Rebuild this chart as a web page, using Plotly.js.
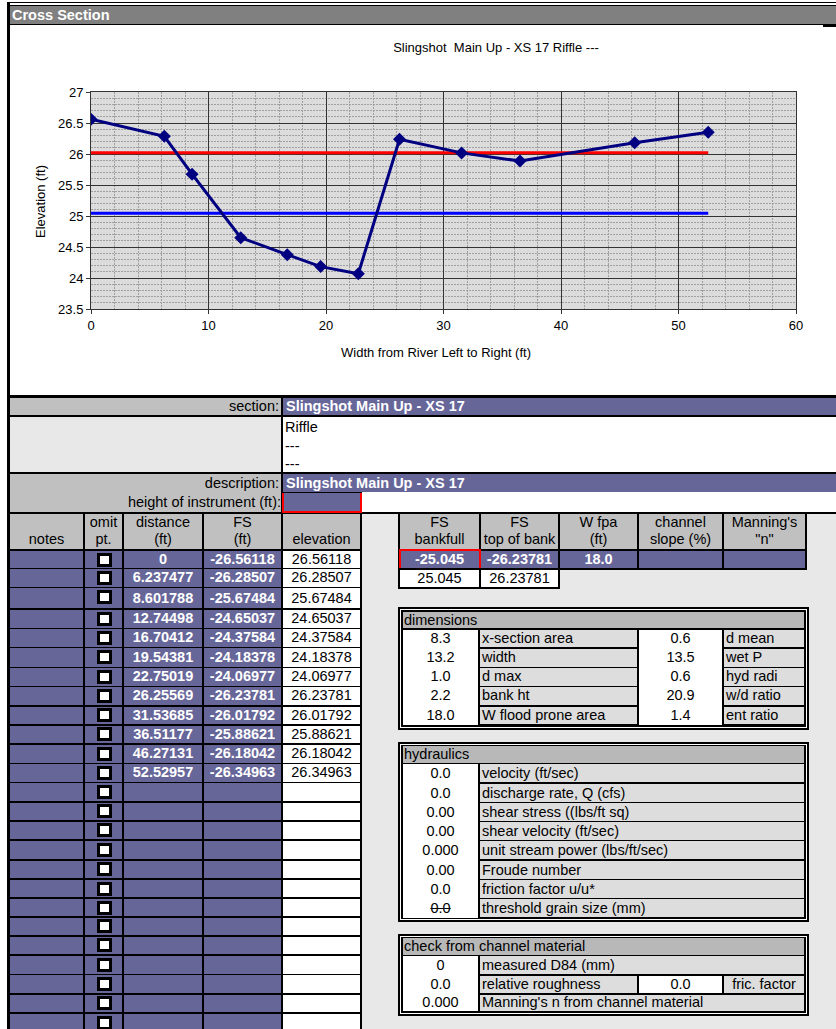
<!DOCTYPE html>
<html><head><meta charset="utf-8">
<script src="https://cdn.plot.ly/plotly-3.0.1.min.js"></script>
<style>
html,body{margin:0;padding:0;background:#fff;}
body{width:836px;height:1029px;position:relative;overflow:hidden;font-family:"Liberation Sans",Arial,sans-serif;}
#chart{position:absolute;left:0;top:0;width:836px;height:400px;}
.r{position:absolute;box-sizing:border-box;overflow:hidden;white-space:nowrap;font-size:14.5px;color:#000;}
</style></head><body>
<div id="chart"></div>
<div id="sheet"></div>
<script>
// ---------- data ----------
const chartTitle = "Slingshot  Main Up - XS 17 Riffle ---";
const xTitle = "Width from River Left to Right (ft)";
const yTitle = "Elevation (ft)";
const distance = [0, 6.237477, 8.601788, 12.74498, 16.70412, 19.54381, 22.75019, 26.25569, 31.53685, 36.51177, 46.27131, 52.52957];
const fsReading = [-26.56118, -26.28507, -25.67484, -24.65037, -24.37584, -24.18378, -24.06977, -26.23781, -26.01792, -25.88621, -26.18042, -26.34963];
const elevation = [26.56118, 26.28507, 25.67484, 24.65037, 24.37584, 24.18378, 24.06977, 26.23781, 26.01792, 25.88621, 26.18042, 26.34963];
const bankfullElev = 25.045;
const floodProneElev = 26.02;
const xTicks = [0, 10, 20, 30, 40, 50, 60];
const yTicks = [23.5, 24, 24.5, 25, 25.5, 26, 26.5, 27];

const sectionName = "Slingshot Main Up - XS 17";
const descLines = ["Riffle", "---", "---"];
const leftHeaders = ["\nnotes", "omit\npt.", "distance\n(ft)", "FS\n(ft)", "\nelevation"];
const rightHeaders = ["FS\nbankfull", "FS\ntop of bank", "W fpa\n(ft)", "channel\nslope (%)", "Manning's\n\"n\""];
const rightRow1 = ["-25.045", "-26.23781", "18.0", "", ""];
const rightRow2 = ["25.045", "26.23781"];
const dimValues1 = ["8.3", "13.2", "1.0", "2.2", "18.0"];
const dimLabels1 = ["x-section area", "width", "d max", "bank ht", "W flood prone area"];
const dimValues2 = ["0.6", "13.5", "0.6", "20.9", "1.4"];
const dimLabels2 = ["d mean", "wet P", "hyd radi", "w/d ratio", "ent ratio"];
const hydValues = ["0.0", "0.0", "0.00", "0.00", "0.000", "0.00", "0.0", "0.0"];
const hydLabels = ["velocity (ft/sec)", "discharge rate, Q (cfs)", "shear stress ((lbs/ft sq)", "shear velocity (ft/sec)", "unit stream power (lbs/ft/sec)", "Froude number", "friction factor u/u*", "threshold grain size (mm)"];
const chkValues = ["0", "0.0", "0.000"];
const chkLabels = ["measured D84 (mm)", "relative roughness", "Manning's n from channel material"];
const chkExtraValue = "0.0";
const chkExtraLabel = "fric. factor";

// ---------- chart ----------
const xEnd = distance[distance.length - 1];
const traces = [
  {x: [0, xEnd], y: [floodProneElev, floodProneElev], type: 'scatter', mode: 'lines', line: {color: '#ff0000', width: 3}, hoverinfo: 'skip'},
  {x: [0, xEnd], y: [bankfullElev, bankfullElev], type: 'scatter', mode: 'lines', line: {color: '#0000ff', width: 3}, hoverinfo: 'skip'},
  {x: distance, y: elevation, type: 'scatter', mode: 'lines+markers', line: {color: '#000080', width: 3},
   marker: {symbol: 'diamond', size: 10, color: '#000080'}}
];
const L = 91, T = 92, PW = 705, PH = 217;
const minorGrid = {showgrid: true, gridcolor: '#a0a0a0', griddash: '2px,1px', gridwidth: 1};
const layout = {
  width: 836, height: 400,
  margin: {l: L, r: 836 - L - PW, t: T, b: 400 - T - PH, pad: 0},
  paper_bgcolor: '#ffffff', plot_bgcolor: '#dcdcdc', showlegend: false, hovermode: false,
  font: {family: '"Liberation Sans", Arial, sans-serif', size: 13, color: '#000'},
  title: {text: chartTitle, x: 496 / 836, xref: 'container', xanchor: 'center', y: 1 - 47 / 400, yref: 'container', yanchor: 'middle', font: {size: 13, color: '#000'}},
  xaxis: {range: [0, 60], tickmode: 'array', tickvals: xTicks, ticktext: xTicks.map(String),
    showgrid: true, gridcolor: '#333333', gridwidth: 1, zeroline: false,
    showline: true, mirror: true, linecolor: '#333333', linewidth: 1,
    ticks: 'outside', ticklen: 4, tickcolor: '#333333', tickfont: {size: 13},
    minor: Object.assign({dtick: 2, tick0: 0}, minorGrid)},
  yaxis: {range: [23.5, 27], tickmode: 'array', tickvals: yTicks, ticktext: yTicks.map(String),
    showgrid: true, gridcolor: '#333333', gridwidth: 1, zeroline: false,
    showline: true, mirror: true, linecolor: '#333333', linewidth: 1,
    ticks: 'outside', ticklen: 4, tickcolor: '#333333', tickfont: {size: 13},
    minor: Object.assign({dtick: 0.1, tick0: 23.5}, minorGrid)},
  annotations: [
    {text: xTitle, xref: 'paper', yref: 'paper', x: (436 - L) / PW, y: (T + PH - 352) / PH, showarrow: false, xanchor: 'center', yanchor: 'middle', font: {size: 13}},
    {text: yTitle, xref: 'paper', yref: 'paper', x: (40 - L) / PW, y: (T + PH - 202) / PH, showarrow: false, xanchor: 'center', yanchor: 'middle', textangle: -90, font: {size: 13}}
  ]
};
Plotly.newPlot('chart', traces, layout, {staticPlot: true, displayModeBar: false});

// ---------- sheet ----------
const sheet = document.getElementById('sheet');
function R(x0, y0, x1, y1, bg, txt, st) {
  const d = document.createElement('div');
  d.className = 'r';
  d.style.left = x0 + 'px'; d.style.top = y0 + 'px';
  d.style.width = (x1 - x0) + 'px'; d.style.height = (y1 - y0) + 'px';
  if (bg) d.style.background = bg;
  if (txt !== undefined && txt !== null) { d.textContent = txt; d.style.lineHeight = (y1 - y0) + 'px'; }
  if (st) Object.assign(d.style, st);
  sheet.appendChild(d);
  return d;
}
const PURPLE = '#666699', GRAY = '#c0c0c0', LIGHT = '#e8e8e8', LABEL = '#dddddd', BOXHEAD = '#b8b8b8';
const pb = {color: '#fff', fontWeight: 'bold', textAlign: 'center'};
const ctr = {textAlign: 'center'};
const lft = {paddingLeft: '2px'};
const hdr = {whiteSpace: 'pre', lineHeight: '17px', textAlign: 'center'};

// top title bar and frame
R(7, 2, 836, 3.4, '#000');
R(7, 4.6, 836, 6, '#000');
R(10, 6, 836, 24, '#808080', 'Cross Section', {color: '#fff', fontWeight: 'bold', paddingLeft: '2px', lineHeight: '19px'});
R(10, 24, 836, 25.4, '#000');
R(823, 24, 836, 26.5, '#000');
R(7, 2, 10, 1029, '#000');

// upper info block
R(7, 395, 836, 514, '#000');
R(7, 512, 362, 1029, '#000');
R(362, 514, 836, 1029, LIGHT);
R(10, 398, 281, 415, GRAY, 'section:', {textAlign: 'right', paddingRight: '2px'});
R(283, 398, 836, 415, PURPLE, sectionName, {color: '#fff', fontWeight: 'bold', paddingLeft: '3px'});
R(10, 417, 281, 472, LIGHT);
R(283, 417, 836, 472, '#fff', descLines.join('\n'), {whiteSpace: 'pre', lineHeight: '18.5px', paddingLeft: '2px', paddingTop: '1px'});
R(10, 474, 281, 512, GRAY);
R(10, 474, 281, 492, null, 'description:', {textAlign: 'right', paddingRight: '2px'});
R(10, 493, 281, 512, null, 'height of instrument (ft):', {textAlign: 'right', paddingRight: '0px'});
R(283, 474, 836, 492, PURPLE, sectionName, {color: '#fff', fontWeight: 'bold', paddingLeft: '3px'});
R(362, 492, 836, 512, '#fff');
R(282, 493, 362, 513, PURPLE, null, {borderLeft: '2px solid #ff0000', borderRight: '2px solid #ff0000', borderBottom: '2px solid #ff0000'});

// left table
const colX = [[10, 83], [85, 122], [124, 202], [204, 281], [283, 360]];
leftHeaders.forEach((h, i) => R(colX[i][0], 514, colX[i][1], 549, GRAY, h, hdr));
const rowTops = [551, 569.4, 588.3, 610, 629.3, 648.3, 668.3, 687.3, 706.7, 725.7, 745, 764.3, 783.3, 802.7, 821.7, 841, 860.7, 880, 899, 917.7, 936.7, 956, 975.3, 994.7, 1014];
for (let i = 0; i < rowTops.length; i++) {
  const t = rowTops[i];
  const b = (i + 1 < rowTops.length ? rowTops[i + 1] : 1033) - 1.7;
  const has = i < distance.length;
  R(colX[0][0], t, colX[0][1], b, PURPLE);
  R(colX[1][0], t, colX[1][1], b, PURPLE);
  R(97, t + 1.5, 112, t + 15.5, '#000');
  R(100, t + 4.5, 109, t + 12.5, '#fff');
  R(colX[2][0], t, colX[2][1], b, PURPLE, has ? String(distance[i]) : '', pb);
  R(colX[3][0], t, colX[3][1], b, PURPLE, has ? String(fsReading[i]) : '', pb);
  R(colX[4][0], t, colX[4][1], b, '#fff', has ? String(elevation[i]) : '', ctr);
}

// right header table
const rcolX = [[400, 479], [481, 558], [560, 637], [639, 722], [724, 805]];
R(398, 512, 807, 569.5, '#000');
rightHeaders.forEach((h, i) => R(rcolX[i][0], 514, rcolX[i][1], 549, GRAY, h, hdr));
rightRow1.forEach((v, i) => R(rcolX[i][0], 551, rcolX[i][1], 568, PURPLE, v, pb));
R(398.5, 549, 481, 569.5, null, null, {border: '2px solid #ff0000'});
R(398, 568, 559.5, 589, '#000');
rightRow2.forEach((v, i) => R(rcolX[i][0], 570, rcolX[i][1], 587.3, '#fff', v, ctr));

// boxed tables
function box(y0, y1) {
  R(398, y0, 809, y1, '#000');
  R(400, y0 + 2, 807, y1 - 2, '#fff');
  R(401, y0 + 3, 806, y1 - 3, '#000');
}
// dimensions
box(607, 730);
R(403, 612, 804, 628, BOXHEAD, 'dimensions', {paddingLeft: '1px'});
R(403, 630, 478, 724.5, '#fff');
R(639, 630, 722, 724.5, '#fff');
const dimTops = [630, 649, 668.3, 687.3, 706.7], dimBots = [646.7, 666.7, 686, 705, 724.3];
for (let i = 0; i < dimTops.length; i++) {
  R(403, dimTops[i], 478, dimBots[i], null, dimValues1[i], ctr);
  R(480, dimTops[i], 637, dimBots[i], LABEL, dimLabels1[i], lft);
  R(639, dimTops[i], 722, dimBots[i], null, dimValues2[i], ctr);
  R(724, dimTops[i], 804, dimBots[i], LABEL, dimLabels2[i], lft);
}
// hydraulics
box(742, 922);
R(403, 745.5, 804, 762.7, BOXHEAD, 'hydraulics', {paddingLeft: '1px'});
R(403, 764, 478, 917.5, '#fff');
const hydTops = [764, 783.7, 803, 822, 841.3, 860.7, 880, 899.3];
for (let i = 0; i < hydTops.length; i++) {
  const st = i === hydTops.length - 1 ? {textAlign: 'center', textDecoration: 'line-through'} : ctr;
  R(403, hydTops[i], 478, hydTops[i] + 18, null, hydValues[i], st);
  R(480, hydTops[i], 804, hydTops[i] + 18, LABEL, hydLabels[i], lft);
}
// check from channel material
box(934, 1016);
R(403, 938.3, 804, 955, BOXHEAD, 'check from channel material', {paddingLeft: '1px'});
R(403, 956, 478, 1011, '#fff');
const chkTops = [956, 975.7, 995], chkBots = [974.3, 993.3, 1010.7];
for (let i = 0; i < chkTops.length; i++) {
  R(403, chkTops[i], 478, chkBots[i], null, chkValues[i], ctr);
  if (i === 1) {
    R(480, chkTops[i], 637, chkBots[i], LABEL, chkLabels[i], lft);
    R(639, chkTops[i], 722, chkBots[i], '#fff', chkExtraValue, ctr);
    R(724, chkTops[i], 804, chkBots[i], LABEL, chkExtraLabel, ctr);
  } else {
    R(480, chkTops[i], 804, chkBots[i], LABEL, chkLabels[i], lft);
  }
}
</script>
</body></html>
